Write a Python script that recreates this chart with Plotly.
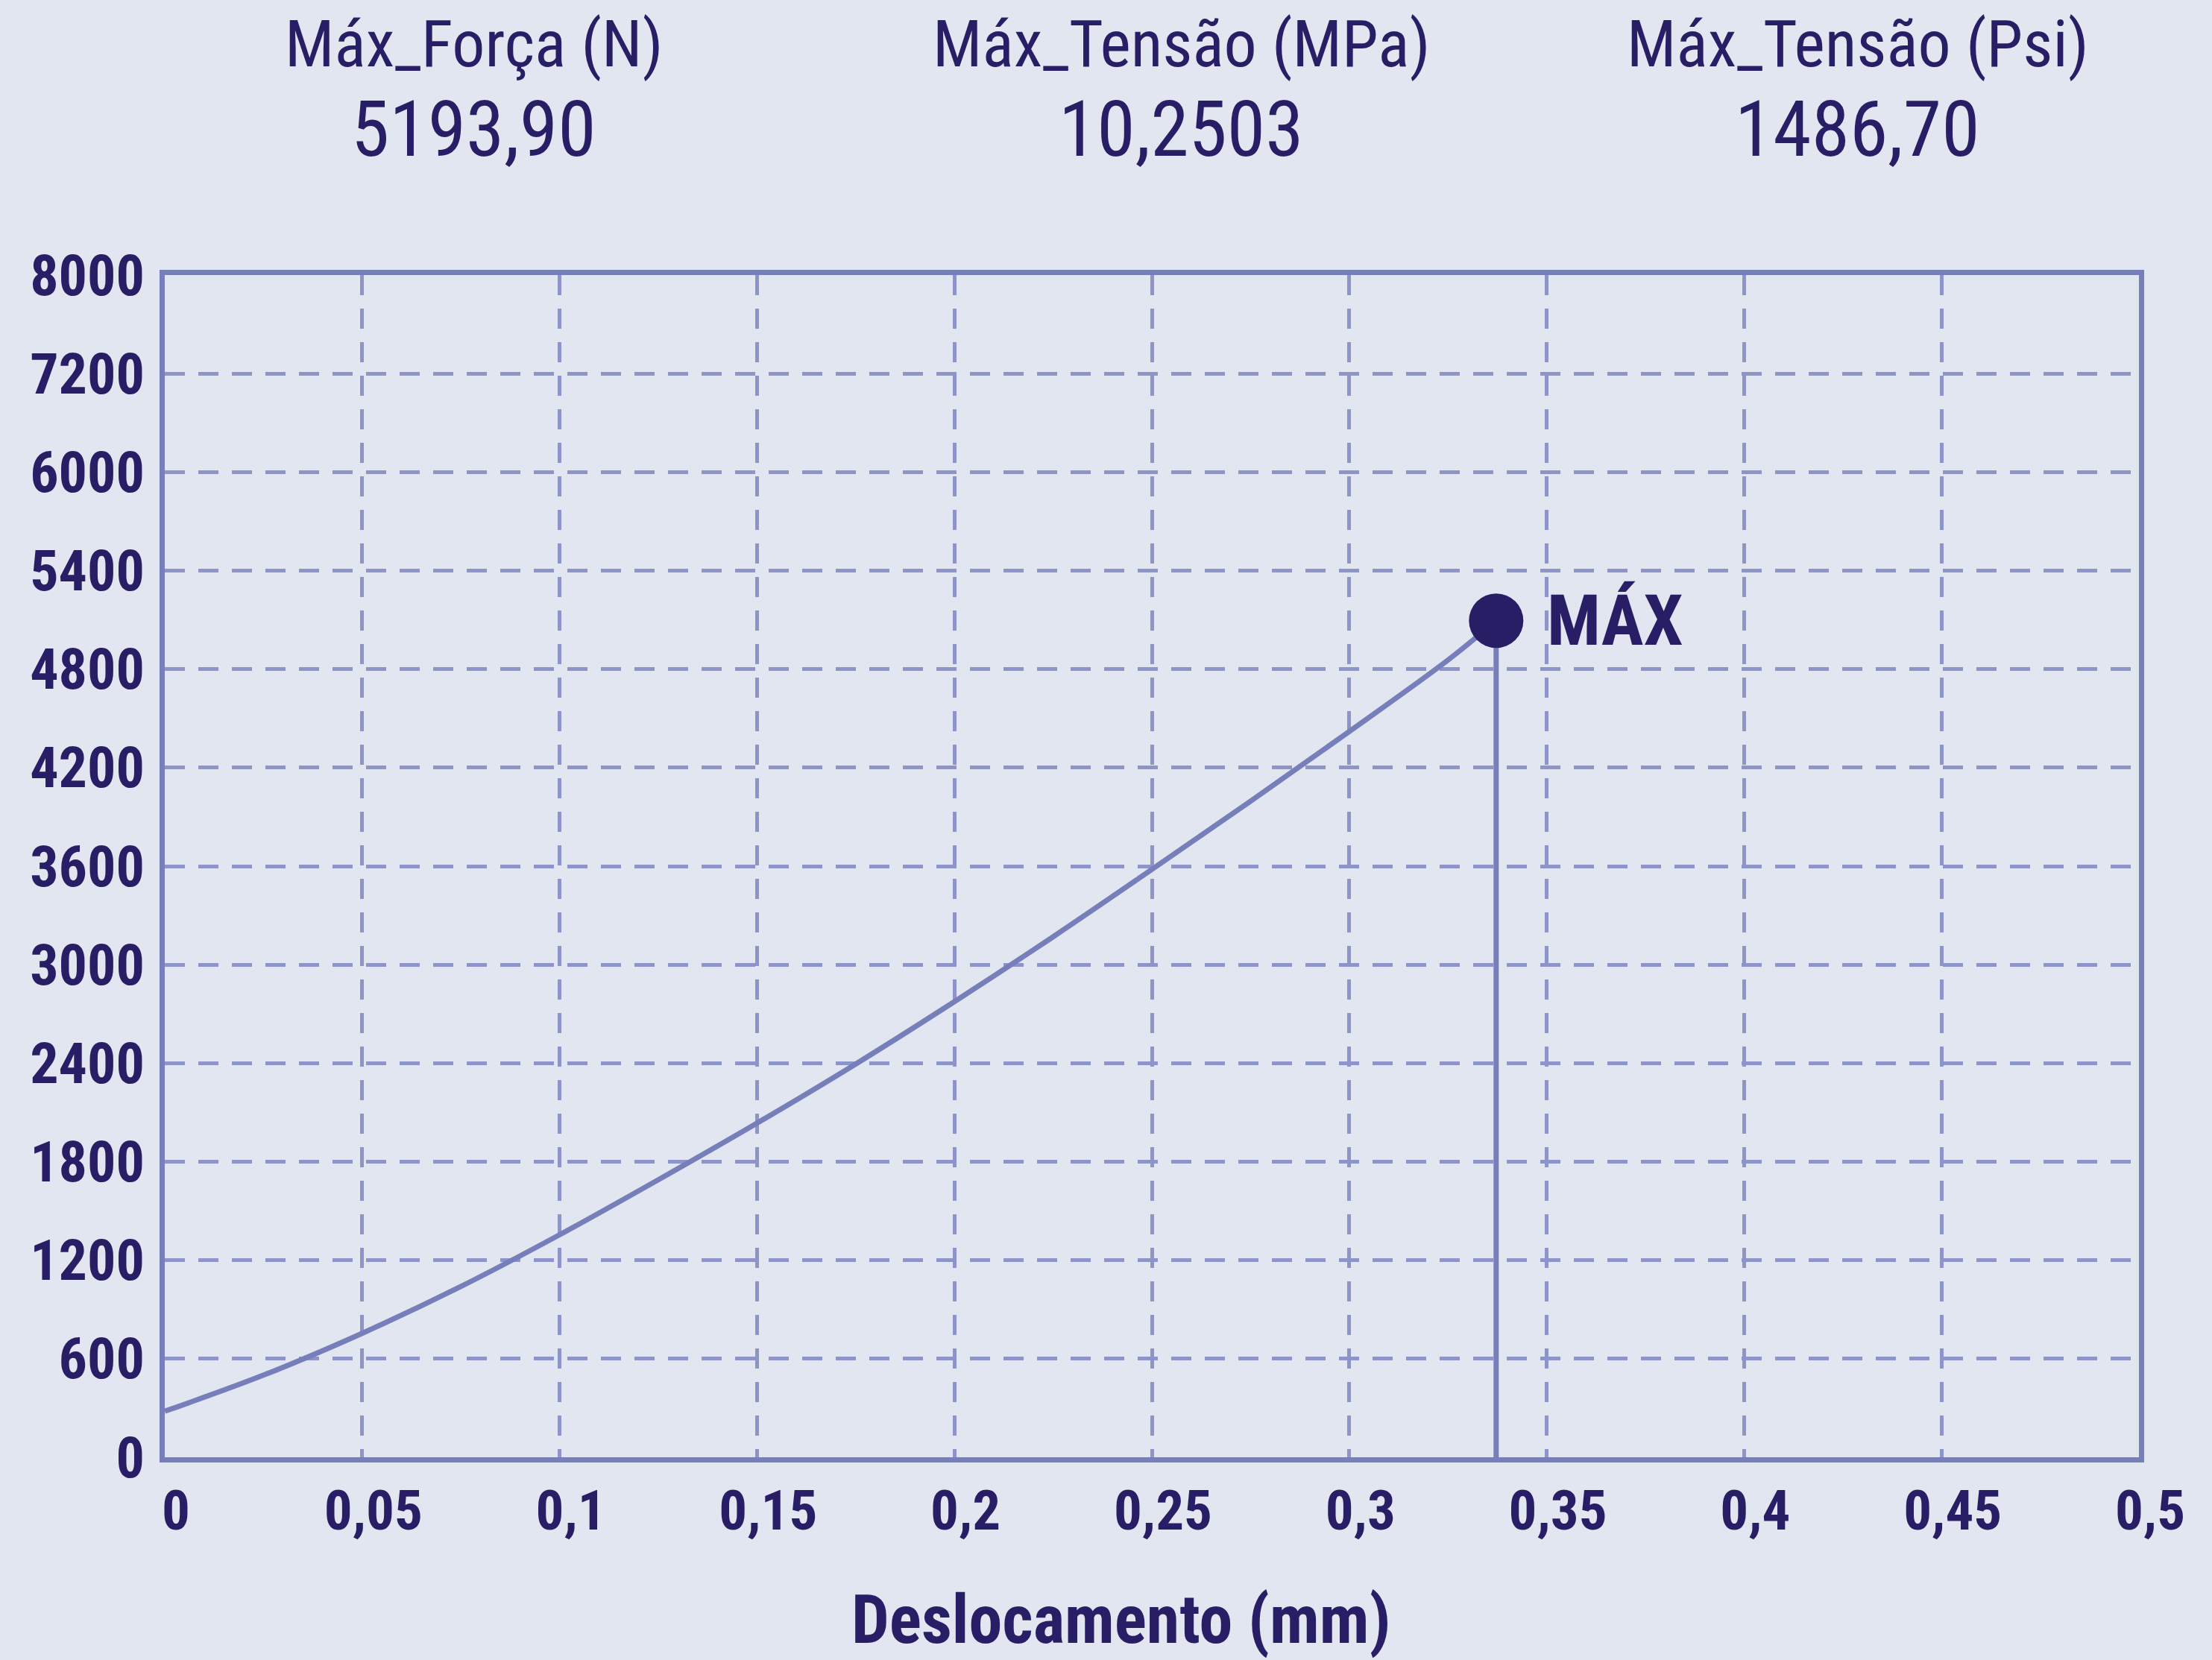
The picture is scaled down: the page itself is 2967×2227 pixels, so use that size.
import plotly.graph_objects as go

# ---- data ----
disp_mm = [0, 0.025, 0.05, 0.075, 0.1, 0.125, 0.15, 0.175, 0.2, 0.225, 0.25, 0.275, 0.3, 0.325, 0.3372]
force_n = [280, 500, 755, 1040, 1355, 1690, 2035, 2395, 2775, 3170, 3580, 3995, 4420, 4855, 5095]
peak_disp = 0.3372
peak_force = 5095

x_tickvals = [0, 0.05, 0.1, 0.15, 0.2, 0.25, 0.3, 0.35, 0.4, 0.45, 0.5]
x_ticktext = ["0", "0,05", "0,1", "0,15", "0,2", "0,25", "0,3", "0,35", "0,4", "0,45", "0,5"]
y_tickvals = [0, 600, 1200, 1800, 2400, 3000, 3600, 4200, 4800, 5400, 6000, 6600, 7200]
y_ticktext = ["0", "600", "1200", "1800", "2400", "3000", "3600", "4200", "4800", "5400", "6000", "7200", "8000"]

header_labels = ["Máx_Força (N)", "Máx_Tensão (MPa)", "Máx_Tensão (Psi)"]
header_values = ["5193,90", "10,2503", "1486,70"]
header_xpos = [0.1567, 0.5151, 0.8576]
x_title = "Deslocamento (mm)"

BG = "#E1E6F1"
NAVY = "#281E66"
AXIS = "#777FBA"
GRID = "#8C94C8"
FONT = "Roboto Condensed, Liberation Sans Narrow, DejaVu Sans Condensed, sans-serif"

fig = go.Figure()

fig.add_trace(go.Scatter(
    x=disp_mm, y=force_n, mode="lines",
    line=dict(color=AXIS, width=7, shape="spline", smoothing=1.0),
    hoverinfo="skip", showlegend=False))

fig.add_trace(go.Scatter(
    x=[peak_disp, peak_disp], y=[0, peak_force], mode="lines",
    line=dict(color=AXIS, width=7),
    hoverinfo="skip", showlegend=False))

fig.add_trace(go.Scatter(
    x=[peak_disp], y=[peak_force], mode="markers",
    marker=dict(color=NAVY, size=73, line=dict(width=0)),
    hoverinfo="skip", showlegend=False))

fig.add_annotation(
    x=peak_disp, y=peak_force, xref="x", yref="y",
    text="<b>MÁX</b>", showarrow=False, xanchor="left", yanchor="middle",
    xshift=66, font=dict(family=FONT, size=95, color=NAVY))

for lab, val, xp in zip(header_labels, header_values, header_xpos):
    fig.add_annotation(x=xp, y=1.1955, xref="paper", yref="paper", text=lab,
                       showarrow=False, xanchor="center", yanchor="middle",
                       font=dict(family=FONT, size=88, color=NAVY))
    fig.add_annotation(x=xp, y=1.1235, xref="paper", yref="paper", text=val,
                       showarrow=False, xanchor="center", yanchor="middle",
                       font=dict(family=FONT, size=104, color=NAVY))

fig.add_annotation(x=0.4845, y=-0.138, xref="paper", yref="paper",
                   text="<b>" + x_title + "</b>", showarrow=False,
                   xanchor="center", yanchor="middle",
                   font=dict(family=FONT, size=90, color=NAVY))

fig.update_layout(
    width=2967, height=2227,
    margin=dict(l=221, r=98, t=369, b=272, autoexpand=False),
    paper_bgcolor=BG, plot_bgcolor=BG,
    font=dict(family=FONT, color=NAVY),
    showlegend=False,
)

fig.update_xaxes(
    range=[0, 0.5], tickvals=x_tickvals, ticktext=x_ticktext,
    tickfont=dict(family=FONT, size=75, color=NAVY, weight="bold"),
    ticks="", ticklabelstandoff=0, ticklabelshift=15, automargin=False,
    showline=True, mirror=True, linecolor=AXIS, linewidth=7,
    showgrid=True, gridcolor=GRID, gridwidth=5, griddash="27px,18px",
    zeroline=False,
)
fig.update_yaxes(
    range=[0, 7200], tickvals=y_tickvals, ticktext=y_ticktext,
    tickfont=dict(family=FONT, size=76, color=NAVY, weight="bold"),
    ticks="", ticklabelstandoff=5, automargin=False,
    showline=True, mirror=True, linecolor=AXIS, linewidth=7,
    showgrid=True, gridcolor=GRID, gridwidth=5, griddash="27px,18px",
    zeroline=False,
)

fig.write_html("out.html", config={"displayModeBar": False},
               post_script="document.body.style.margin='0';")
